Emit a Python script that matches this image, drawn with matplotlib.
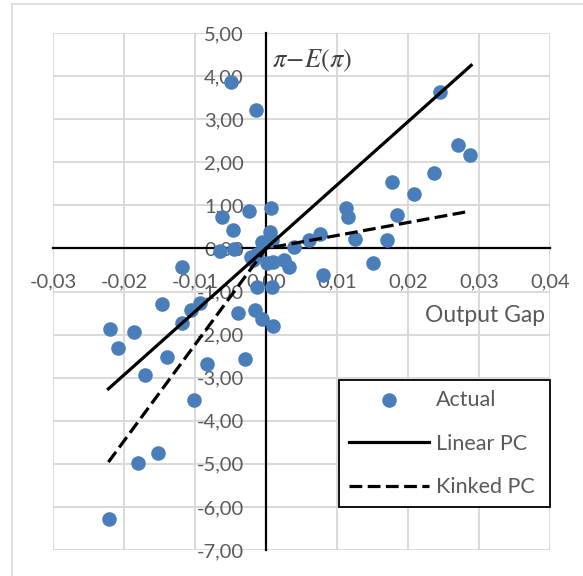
import numpy as np
import matplotlib
matplotlib.use("Agg")
import matplotlib.pyplot as plt
from matplotlib.ticker import FuncFormatter, MultipleLocator
from matplotlib.lines import Line2D

plt.rcParams['font.family'] = ['Lato', 'DejaVu Sans']
plt.rcParams['mathtext.fontset'] = 'stix'

# scatter data (output gap, inflation surprise)
gap = [-0.0050, -0.0014, 0.0245, 0.0271, 0.0288, 0.0237, 0.0177, 0.0209,
       0.0112, 0.0116, 0.0185, 0.0125, 0.0170, 0.0150, 0.0076, 0.0060,
       0.0039, 0.0080, 0.0007, -0.0024, -0.0062, -0.0046, -0.0065, -0.0045,
       0.0006, -0.0005, 0.0008, -0.0019, -0.0012, -0.0021, 0.0002, 0.0010,
       0.0026, 0.0033, -0.0012, 0.0009, -0.0039, -0.0015, -0.0005, 0.0010,
       -0.0029, -0.0083, -0.0102, -0.0119, -0.0147, -0.0093, -0.0106, -0.0119,
       -0.0220, -0.0186, -0.0209, -0.0140, -0.0171, -0.0180, -0.0152, -0.0221]
surprise = [3.87, 3.21, 3.63, 2.39, 2.17, 1.75, 1.54, 1.27,
            0.94, 0.73, 0.78, 0.22, 0.20, -0.34, 0.34, 0.20,
            0.03, -0.61, 0.94, 0.86, 0.72, 0.43, -0.05, -0.02,
            0.38, 0.14, 0.20, -0.26, -0.12, -0.20, -0.33, -0.31,
            -0.27, -0.42, -0.90, -0.89, -1.50, -1.44, -1.64, -1.79,
            -2.57, -2.69, -3.51, -0.43, -1.28, -1.26, -1.44, -1.74,
            -1.88, -1.95, -2.30, -2.51, -2.93, -4.97, -4.74, -6.27]

# fitted Phillips curves
linear_x = [-0.0222, 0.0289]
linear_y = [-3.26, 4.25]
kinked_x = [-0.0222, 0.0, 0.0286]
kinked_y = [-4.96, 0.0, 0.86]

grey = '#595959'
blue = '#4a7ebb'

fig = plt.figure(figsize=(5.83, 5.76), dpi=100)
ax = fig.add_axes([53/583, 1 - 550/576, 497/583, 517/576])

# chart area border (clipped at right / bottom)
fig.add_artist(Line2D([12/583, 12/583], [0, 1 - 4/576], color='#d9d9d9', lw=1.2))
fig.add_artist(Line2D([12/583, 1], [1 - 4/576, 1 - 4/576], color='#d9d9d9', lw=1.2))

ax.scatter(gap, surprise, s=110, color=blue, zorder=3, label='Actual', linewidths=0)
ax.plot(linear_x, linear_y, color='black', lw=2.3, zorder=4, label='Linear PC')
ax.plot(kinked_x, kinked_y, color='black', lw=2.3, ls=(0, (4.0, 1.7)), zorder=4, label='Kinked PC')

ax.set_xlim(-0.03, 0.04)
ax.set_ylim(-7, 5)
ax.xaxis.set_major_locator(MultipleLocator(0.01))
ax.yaxis.set_major_locator(MultipleLocator(1))
fmt = FuncFormatter(lambda v, p: ('%.2f' % (0 if abs(v) < 1e-9 else v)).replace('.', ','))
ax.xaxis.set_major_formatter(fmt)
ax.yaxis.set_major_formatter(fmt)

ax.grid(True, color='#d9d9d9', lw=1.4, zorder=0)
ax.set_axisbelow(True)
for s in ['top', 'right']:
    ax.spines[s].set_visible(False)
ax.spines['left'].set_position(('data', 0))
ax.spines['bottom'].set_position(('data', 0))
ax.spines['left'].set_linewidth(1.6)
ax.spines['bottom'].set_linewidth(1.6)
ax.spines['left'].set_zorder(2)
ax.spines['bottom'].set_zorder(2)
ax.tick_params(length=0, labelsize=14.5, colors=grey)
ax.tick_params(axis='x', pad=18)
ax.tick_params(axis='y', pad=16)

ax.text(0.0008, 4.35, r'$\pi\!-\!E(\pi)$', fontsize=19, color='#404040', va='center', ha='left')
ax.text(0.0393, -1.55, 'Output Gap', fontsize=16.5, color=grey, ha='right', va='center')

leg = ax.legend(loc='lower left', bbox_to_anchor=(286/497, 0.083, 211/497, 0.2),
                mode='expand', fontsize=15.5,
                frameon=True, fancybox=False, framealpha=1, edgecolor='black',
                handlelength=3.75, handletextpad=0.3, labelspacing=1.1,
                borderpad=0.45, borderaxespad=0, scatterpoints=1)
leg.get_frame().set_linewidth(1.3)
for t in leg.get_texts():
    t.set_color(grey)

fig.savefig('out.png', dpi=100)
